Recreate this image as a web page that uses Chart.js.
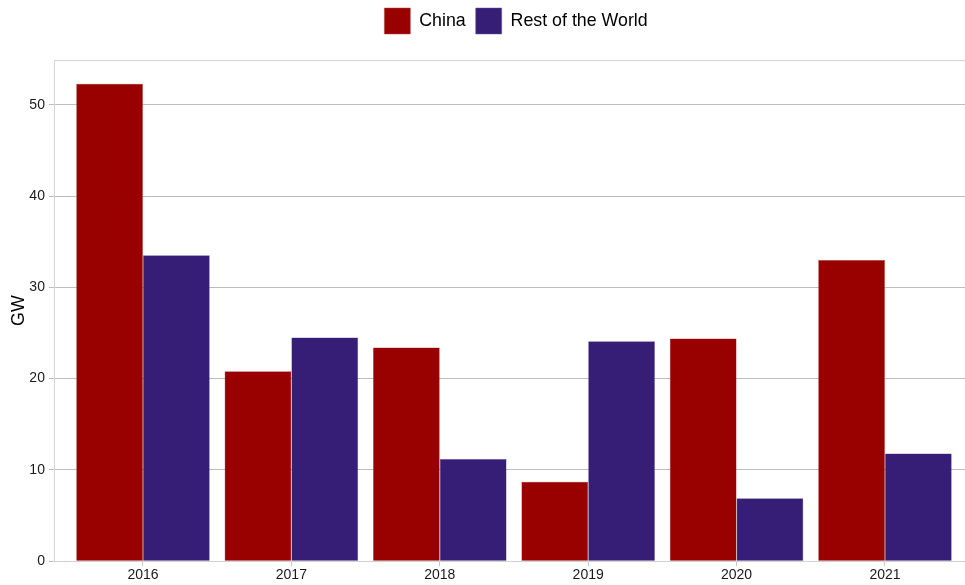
<!DOCTYPE html>
<html>

<head>
    <meta charset="utf-8">
    <title>China vs Rest of the World</title>
    <script src="https://cdn.jsdelivr.net/npm/chart.js"></script>
    <style>
        html, body {
            margin: 0;
            padding: 0;
            overflow: hidden;
            background: #fff;
        }

        #wrap {
            position: absolute;
            left: 0;
            top: 0;
            width: 1028px;
            height: 585px;
        }
    </style>
</head>

<body>
    <div id="wrap"><canvas id="barChart"></canvas></div>

    <script>
        // data
        const years = ['2016', '2017', '2018', '2019', '2020', '2021'];
        const china = [52.3, 20.8, 23.4, 8.7, 24.4, 33.0];
        const restOfWorld = [33.5, 24.5, 11.2, 24.1, 6.9, 11.8];
        const yTicks = [0, 10, 20, 30, 40, 50];

        const ctx = document.getElementById('barChart').getContext('2d');

        // x positions 1..6, ggplot-like 0.6 expansion on each side
        const toPoints = arr => arr.map((v, i) => ({ x: i + 1, y: v }));

        // light frame round the panel (left, top, right)
        const framePlugin = {
            id: 'frame',
            beforeDatasetsDraw(chart) {
                const a = chart.chartArea;
                const c = chart.ctx;
                c.save();
                c.strokeStyle = '#d3d3d3';
                c.lineWidth = 1;
                c.beginPath();
                c.moveTo(a.left + 0.5, a.bottom);
                c.lineTo(a.left + 0.5, a.top + 0.5);
                c.lineTo(a.right - 0.5, a.top + 0.5);
                c.lineTo(a.right - 0.5, a.bottom);
                c.stroke();
                c.restore();
            }
        };

        // nudge the legend so it sits where the original has it
        const legendShift = {
            id: 'legendShift',
            afterLayout(chart) {
                const lg = chart.legend;
                if (!lg) return;
                lg.left += 25;
                lg.right += 25;
                lg.top -= 16;
                lg.bottom -= 16;
            }
        };

        new Chart(ctx, {
            type: 'bar',
            data: {
                datasets: [{
                    label: 'China',
                    data: toPoints(china),
                    backgroundColor: '#990000',
                    borderColor: '#b04a4a',
                    borderWidth: 0.5
                }, {
                    label: 'Rest of the World',
                    data: toPoints(restOfWorld),
                    backgroundColor: '#361d75',
                    borderColor: '#6a5a9c',
                    borderWidth: 0.5
                }]
            },
            options: {
                responsive: true,
                maintainAspectRatio: false,
                animation: false,
                categoryPercentage: 0.9,
                barPercentage: 1.0,
                layout: {
                    padding: { top: 14, right: 54, left: 8, bottom: 0 }
                },
                plugins: {
                    legend: {
                        position: 'top',
                        labels: {
                            boxWidth: 26,
                            boxHeight: 26,
                            padding: 10,
                            color: '#000',
                            font: { family: 'Liberation Sans, Arial, sans-serif', size: 17.8 }
                        }
                    },
                    tooltip: { enabled: false }
                },
                scales: {
                    x: {
                        type: 'linear',
                        min: 0.4,
                        max: 6.6,
                        offset: false,
                        afterBuildTicks: s => { s.ticks = years.map((y, i) => ({ value: i + 1 })); },
                        ticks: {
                            callback: v => years[v - 1],
                            color: '#1a1a1a',
                            padding: 1,
                            font: { family: 'Liberation Sans, Arial, sans-serif', size: 14 }
                        },
                        grid: {
                            display: true,
                            offset: false,
                            drawOnChartArea: false,
                            drawTicks: true,
                            tickLength: 5,
                            color: '#c8c8c8'
                        },
                        border: { color: '#d3d3d3' }
                    },
                    y: {
                        min: 0,
                        max: 54.9,
                        afterBuildTicks: s => { s.ticks = yTicks.map(v => ({ value: v })); },
                        title: {
                            display: true,
                            text: 'GW',
                            color: '#000',
                            padding: { top: 0, bottom: -4 },
                            font: { family: 'Liberation Sans, Arial, sans-serif', size: 17.8 }
                        },
                        ticks: {
                            color: '#1a1a1a',
                            padding: 4,
                            font: { family: 'Liberation Sans, Arial, sans-serif', size: 14 }
                        },
                        grid: {
                            color: '#bdbdbd',
                            tickLength: 5,
                            tickColor: '#bdbdbd'
                        },
                        border: { display: false }
                    }
                }
            },
            plugins: [framePlugin, legendShift]
        });
    </script>
</body>

</html>
